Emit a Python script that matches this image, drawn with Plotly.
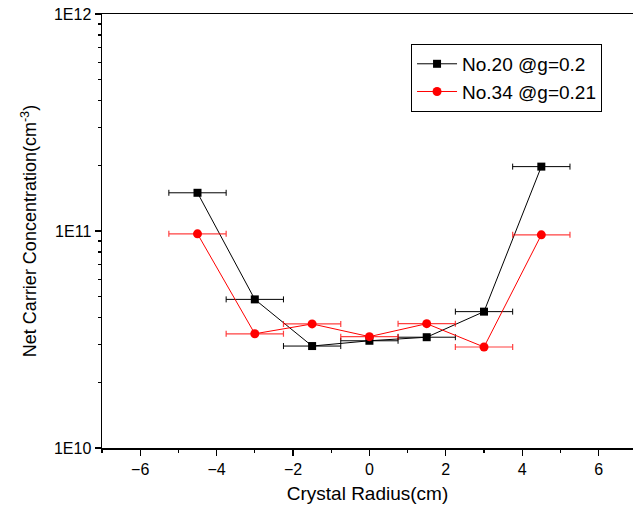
import plotly.graph_objects as go

radius = [-4.5, -3.0, -1.5, 0.0, 1.5, 3.0, 4.5]
radius_err = [0.75] * 7
no20 = [1.50e11, 4.84e10, 2.95e10, 3.12e10, 3.24e10, 4.25e10, 1.98e11]
no34 = [9.7e10, 3.36e10, 3.73e10, 3.26e10, 3.74e10, 2.92e10, 9.6e10]
name20 = "No.20 @g=0.2"
name34 = "No.34 @g=0.21"
ytick_vals = [1e10, 1e11, 1e12]
ytick_text = ["1E10", "1E11", "1E12"]
xtick_vals = [-6, -4, -2, 0, 2, 4, 6]
xminor_vals = [-7, -5, -3, -1, 1, 3, 5]
yminor_vals = [m * 10 ** e for e in (10, 11) for m in range(2, 10)]

font_family = "Liberation Sans, Arial, sans-serif"

fig = go.Figure()
fig.add_trace(go.Scatter(
    x=radius, y=no20, name=name20, mode="lines+markers",
    line=dict(color="black", width=1),
    marker=dict(symbol="square", size=8, color="black"),
    error_x=dict(type="data", array=radius_err, color="black", thickness=1, width=3),
))
fig.add_trace(go.Scatter(
    x=radius, y=no34, name=name34, mode="lines+markers",
    line=dict(color="red", width=1),
    marker=dict(symbol="circle", size=9, color="red"),
    error_x=dict(type="data", array=radius_err, color="rgba(255,0,0,0.75)", thickness=1.2, width=3),
))

fig.update_layout(
    width=633, height=516,
    margin=dict(l=102, r=0, t=14, b=68, autoexpand=False),
    paper_bgcolor="white", plot_bgcolor="white",
    font=dict(family=font_family, color="black", size=16),
    hovermode=False,
    legend=dict(
        x=0.582, y=0.931, xanchor="left", yanchor="top",
        bordercolor="black", borderwidth=1, bgcolor="white",
        font=dict(size=19), tracegroupgap=0, itemwidth=40,
    ),
    xaxis=dict(
        range=[-7, 6.9], tickvals=xtick_vals, automargin=False,
        ticks="outside", ticklen=6, tickwidth=1.2, tickcolor="black",
        showline=True, linecolor="black", linewidth=1.5, mirror=True,
        showgrid=False, zeroline=False,
        minor=dict(tickvals=xminor_vals, ticks="outside", ticklen=3, tickcolor="black", showgrid=False),
        title=dict(text="Crystal Radius(cm)", font=dict(size=19), standoff=10),
        tickfont=dict(size=16),
    ),
    yaxis=dict(
        type="log", range=[10, 12], tickvals=ytick_vals, ticktext=ytick_text, automargin=False,
        ticks="outside", ticklen=6, tickwidth=1.2, tickcolor="black",
        showline=True, linecolor="black", linewidth=1.5, mirror=False,
        showgrid=False, zeroline=False,
        minor=dict(tickvals=yminor_vals, ticks="outside", ticklen=3, tickcolor="black", showgrid=False),
        title=dict(text="Net Carrier Concentration(cm<sup>-3</sup>)", font=dict(size=18), standoff=12),
        tickfont=dict(size=16),
    ),
)

fig.write_html(
    "out.html",
    config={"displayModeBar": False, "staticPlot": True},
    post_script="document.body.style.margin='0';document.body.style.overflow='hidden';",
)
